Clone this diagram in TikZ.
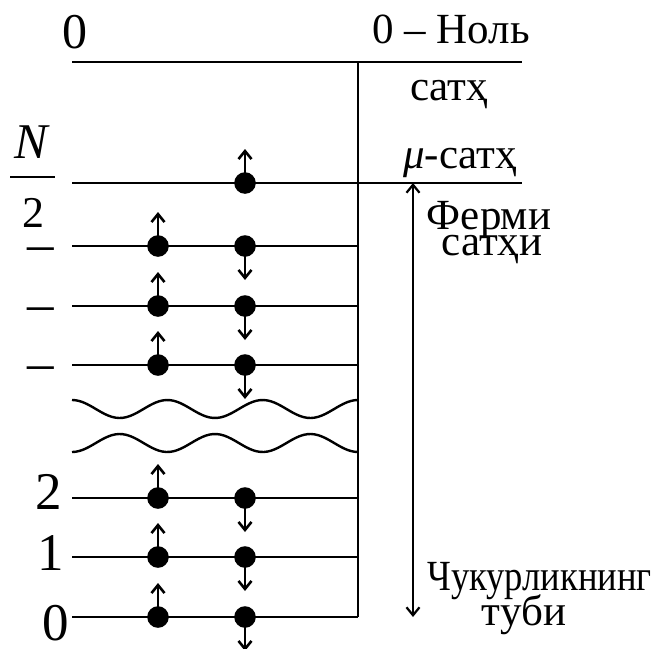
\documentclass[tikz,border=0pt]{standalone}
\usepackage{fontspec}
\setmainfont{Liberation Serif}
\usetikzlibrary{arrows.meta}
\tikzset{>={Straight Barb[length=4pt,width=6.5pt]}}
\tikzstyle{level}=[line width=1.3pt]
\tikzstyle{wave}=[line width=1.2pt,smooth]
\tikzstyle{electron}=[circle,fill=black,inner sep=0pt,minimum size=10.8pt]
\tikzstyle{spin}=[->,line width=1.3pt]
\tikzstyle{txt}=[inner sep=0pt,anchor=base,font=\fontsize{21.5}{24}\selectfont]
\tikzstyle{num}=[inner sep=0pt,anchor=base,font=\fontsize{26.5}{30}\selectfont]

\begin{document}
\begin{tikzpicture}[x=0.5pt,y=-0.5pt]
  \useasboundingbox (0,0) rectangle (663,648);
  \def\xL{72}   % left end of levels
  \def\xV{358}  % well wall
  \def\xE{522}  % right end of long levels
  \def\xA{158}  % spin up column
  \def\xB{245}  % spin down column
  \def\xF{413}  % Fermi arrow
  \def\yZ{62}   % zero level
  \def\yF{183}  % Fermi level
  \def\yB{617}  % bottom level
  \def\ds{34}   % spin arrow length
  \def\k{3.7763}% 360/wave period

  % LEVELS
  \draw[level] (\xL,\yZ) -- (\xE,\yZ);
  \draw[level] (\xL,\yF) -- (\xE,\yF);
  \draw[level] (\xV,\yZ) -- (\xV,\yB);
  \foreach \y in {246,306,365,498,557,\yB}
    \draw[level] (\xL,\y) -- (\xV,\y);

  % BROKEN PART
  \draw[wave] plot[domain=\xL:\xV,samples=80] (\x,{409-9*cos(\k*(\x-\xL))});
  \draw[wave] plot[domain=\xL:\xV,samples=80] (\x,{443+9*cos(\k*(\x-\xL))});

  % ELECTRONS
  \node[electron] (eF) at (\xB,\yF) {};
  \draw[spin] (eF.center) -- ++(0,-\ds);
  \foreach \y [count=\i] in {246,306,365,498,557,\yB}{
    \node[electron] (u\i) at (\xA,\y) {};
    \node[electron] (d\i) at (\xB,\y) {};
    \draw[spin] (u\i.center) -- ++(0,-\ds);
    \draw[spin] (d\i.center) -- ++(0,\ds);
  }

  % FERMI ARROW
  \coordinate (fT) at (\xF,\yF);
  \coordinate (fB) at (\xF,\yB);
  \draw[<->,line width=1.1pt] (fT) -- (fB);

  % LABELS
  \node[num,font=\fontsize{25}{30}\selectfont] (z0) at (75,48) {0};
  \node[txt,anchor=base west] (nol) at (372,43) {0 – Ноль};
  \node[txt] (s0) at (449,100) {сатҳ};
  \node[txt] (smu) at (460,168) {\textit{μ}-сатҳ};
  \node[txt] (fer) at (489,229) {Ферми};
  \node[txt] (fer2) at (492,255) {сатҳи};
  \node[txt,anchor=base west,xscale=0.85] (chu) at (427,590) {Чукурликнинг};
  \node[txt] (tub) at (524,625) {туби};
  \node[txt,font=\fontsize{25}{30}\selectfont] (nN) at (32,158) {\textit{N}};
  \node[txt,font=\fontsize{22}{24}\selectfont] (n2) at (33,227) {2};
  \draw[level] (10,177) -- (55,177);
  \foreach \y in {246,306,365}
    \node[num] at (41,\y+15) {–};
  \node[num] (l2) at (49,509) {2};
  \node[num] (l1) at (51,570) {1};
  \node[num] (l0) at (56,640) {0};
\end{tikzpicture}
\end{document}
